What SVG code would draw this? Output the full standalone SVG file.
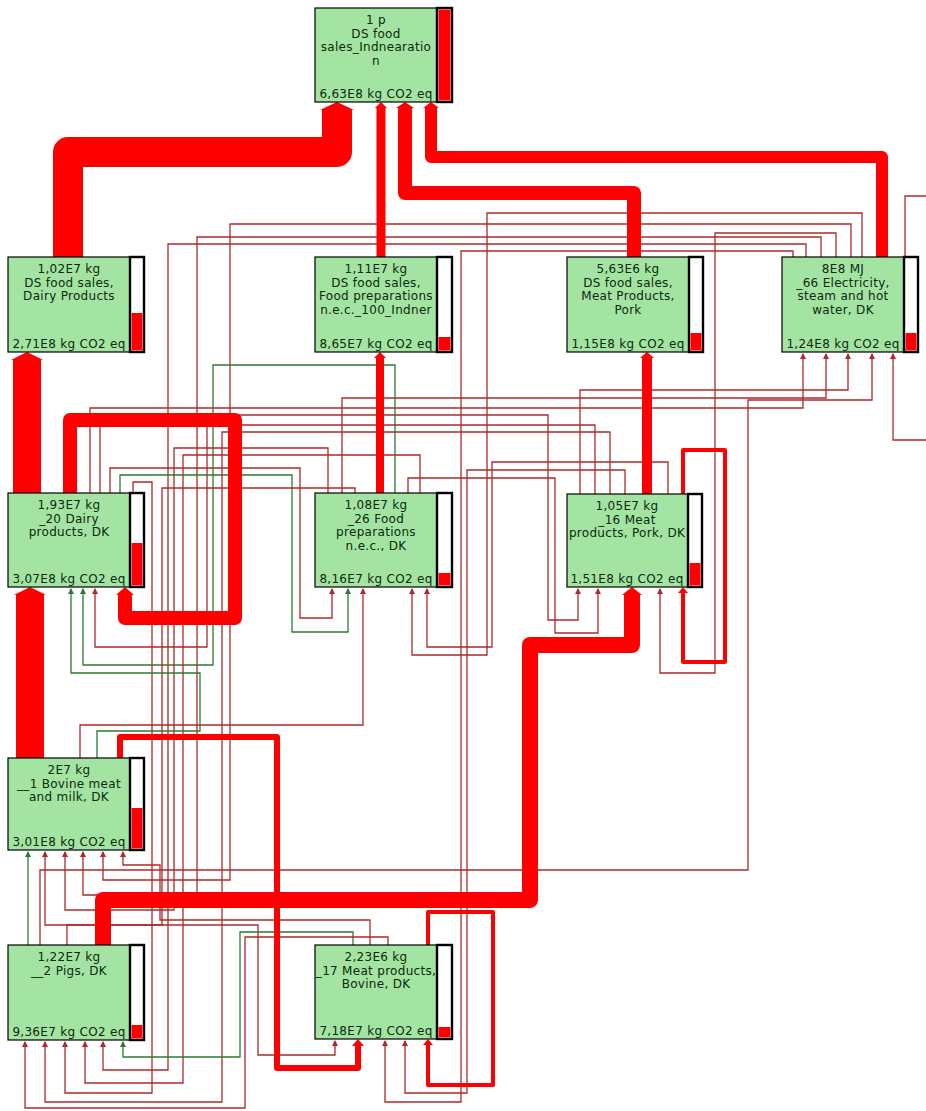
<svg xmlns="http://www.w3.org/2000/svg" width="926" height="1111" viewBox="0 0 926 1111">
<style>
  .box { fill:#a3e4a3; stroke:#000; stroke-width:1.2; }
  .bar { fill:#fff; stroke:#000; stroke-width:2.4; }
  .lvl { fill:#ff0000; }
  .lbl { font-family:"DejaVu Sans", Verdana, sans-serif; font-size:12px; letter-spacing:0.3px; fill:#0b2a0b; text-anchor:middle; }
  .thick { fill:none; stroke:#ff0000; stroke-linejoin:round; }
  .thin { fill:none; stroke:#ad2a2a; stroke-width:1.3; marker-end:url(#ah); }
  .neg { fill:none; stroke:#2f7a2f; stroke-width:1.3; marker-end:url(#ahg); }
  .head { fill:#ff0000; }
</style>
<defs>
  <marker id="ah" markerWidth="6" markerHeight="6" refX="5" refY="3" orient="auto" markerUnits="userSpaceOnUse">
    <path d="M0,0 L6,3 L0,6 z" fill="#ad2a2a"/>
  </marker>
  <marker id="ahg" markerWidth="6" markerHeight="6" refX="5" refY="3" orient="auto" markerUnits="userSpaceOnUse">
    <path d="M0,0 L6,3 L0,6 z" fill="#2f7a2f"/>
  </marker>
</defs>
<rect width="926" height="1111" fill="#fff"/>

<!-- flows between processes -->
<g id="connectors">
  <!-- electricity outputs -->
  <path class="thin" d="M905,257 V196 H940 V440 H893 V354"/>
  <path class="thin" d="M793,257 V251 H461 V1102 H385 V1041"/>
  <path class="thin" d="M806,257 V244 H168 V1070 H103 V1042"/>
  <path class="thin" d="M821,257 V237 H197 V895 H83 V852"/>
  <path class="thin" d="M836,257 V233 H715 V673 H660 V589"/>
  <path class="thin" d="M851,257 V224 H230 V880 H103 V852"/>
  <path class="thin" d="M862,257 V213 H487 V655 H412 V589"/>

  <!-- dairy products outputs -->
  <path class="thin" d="M90,493 V408 H803 V354"/>
  <path class="thin" d="M100,493 V415 H548 V620 H578 V589"/>
  <path class="thin" d="M110,493 V468 H300 V618 H332 V589"/>
  <path class="neg" d="M120,493 V475 H292 V632 H348 V589"/>
  <path class="thin" d="M133,493 V482 H152 V1093 H65 V1042"/>

  <!-- food preparations outputs -->
  <path class="thin" d="M342,493 V398 H826 V354"/>
  <path class="neg" d="M395,493 V365 H213 V665 H83 V589"/>
  <path class="thin" d="M408,493 V478 H555 V633 H598 V589"/>
  <path class="thin" d="M420,493 V455 H183 V1083 H85 V1042"/>
  <path class="thin" d="M328,493 V448 H174 V910 H65 V852"/>
  <path class="thin" d="M355,493 V488 H162 V925 H45 V852"/>

  <!-- pork meat products outputs -->
  <path class="thin" d="M580,494 V390 H848 V354"/>
  <path class="thin" d="M595,494 V425 H207 V647 H95 V589"/>
  <path class="thin" d="M610,494 V432 H222 V1102 H45 V1042"/>
  <path class="thin" d="M625,494 V470 H467 V1093 H405 V1041"/>
  <path class="thin" d="M668,494 V462 H492 V647 H427 V589"/>

  <!-- bovine outputs -->
  <path class="thin" d="M80,758 V725 H363 V589"/>
  <path class="neg" d="M97,758 V731 H200 V673 H71 V589"/>

  <!-- pig outputs -->
  <path class="thin" d="M40,945 V870 H748 V400 H872 V354"/>
  <path class="neg" d="M28,945 V852"/>
  <path class="thin" d="M67,945 V925 H258 V1055 H335 V1041"/>

  <!-- bovine meat products outputs -->
  <path class="neg" d="M353,945 V932 H240 V1057 H123 V1042"/>
  <path class="thin" d="M370,945 V920 H160 V865 H123 V852"/>
  <path class="thin" d="M388,945 V937 H245 V1108 H25 V1042"/>

  <!-- heavy flows -->
  <path class="thick" stroke-width="30" d="M68,257 V152 H337 V110"/>
  <polygon class="head" points="320,110 354,110 337,102"/>
  <path class="thick" stroke-width="9" d="M381,257 V108"/>
  <polygon class="head" points="375,108 387,108 381,102"/>
  <path class="thick" stroke-width="14" d="M634,257 V193 H405 V108"/>
  <polygon class="head" points="396,108 414,108 405,102"/>
  <path class="thick" stroke-width="12" d="M882,257 V157 H431 V108"/>
  <polygon class="head" points="423,108 439,108 431,102"/>

  <path class="thick" stroke-width="28" d="M27,493 V360"/>
  <polygon class="head" points="11,360 43,360 27,352"/>
  <path class="thick" stroke-width="8" d="M380,493 V358"/>
  <polygon class="head" points="374,358 386,358 380,352"/>
  <path class="thick" stroke-width="10" d="M647,494 V358"/>
  <polygon class="head" points="640,358 654,358 647,352"/>

  <path class="thick" stroke-width="14" d="M70,493 V420 H235 V618 H125 V595"/>
  <polygon class="head" points="116,595 134,595 125,587"/>

  <path class="thick" stroke-width="28" d="M30,758 V595"/>
  <polygon class="head" points="14,595 46,595 30,587"/>

  <path class="thick" stroke-width="16" d="M103,945 V900 H530 V645 H632 V595"/>
  <polygon class="head" points="622,595 642,595 632,587"/>

  <path class="thick" stroke-width="6" d="M120,758 V737 H277 V1068 H358 V1046"/>
  <polygon class="head" points="352,1046 364,1046 358,1039"/>

  <path class="thick" stroke-width="4" d="M428,945 V912 H493 V1085 H428 V1045"/>
  <polygon class="head" points="423,1045 433,1045 428,1039"/>

  <path class="thick" stroke-width="4" d="M683,494 V450 H725 V662 H683 V593"/>
  <polygon class="head" points="678,593 688,593 683,587"/>
</g>

<!-- processes -->
<g id="n-total">
  <rect class="box" x="315" y="8" width="122" height="94"/>
  <rect class="bar" x="437" y="8" width="15" height="94"/>
  <rect class="lvl" x="438.5" y="9.5" width="12" height="91"/>
  <text class="lbl" x="376" y="24">1 p</text>
  <text class="lbl" x="376" y="37.5">DS food</text>
  <text class="lbl" x="376" y="51">sales_Indnearatio</text>
  <text class="lbl" x="376" y="64.5">n</text>
  <text class="lbl" x="376" y="98">6,63E8 kg CO2 eq</text>
</g>

<g id="n-dairy-sales">
  <rect class="box" x="8" y="257" width="122" height="95"/>
  <rect class="bar" x="130" y="257" width="14" height="95"/>
  <rect class="lvl" x="131.5" y="313" width="11" height="37.5"/>
  <text class="lbl" x="69" y="273">1,02E7 kg</text>
  <text class="lbl" x="69" y="286.5">DS food sales,</text>
  <text class="lbl" x="69" y="300">Dairy Products</text>
  <text class="lbl" x="69" y="348">2,71E8 kg CO2 eq</text>
</g>

<g id="n-foodprep-sales">
  <rect class="box" x="315" y="257" width="122" height="95"/>
  <rect class="bar" x="437" y="257" width="15" height="95"/>
  <rect class="lvl" x="438.5" y="337" width="12" height="13.5"/>
  <text class="lbl" x="376" y="273">1,11E7 kg</text>
  <text class="lbl" x="376" y="286.5">DS food sales,</text>
  <text class="lbl" x="376" y="300">Food preparations</text>
  <text class="lbl" x="376" y="313.5">n.e.c._100_Indner</text>
  <text class="lbl" x="376" y="348">8,65E7 kg CO2 eq</text>
</g>

<g id="n-pork-sales">
  <rect class="box" x="567" y="257" width="122" height="95"/>
  <rect class="bar" x="689" y="257" width="14" height="95"/>
  <rect class="lvl" x="690.5" y="333" width="11" height="17.5"/>
  <text class="lbl" x="628" y="273">5,63E6 kg</text>
  <text class="lbl" x="628" y="286.5">DS food sales,</text>
  <text class="lbl" x="628" y="300">Meat Products,</text>
  <text class="lbl" x="628" y="313.5">Pork</text>
  <text class="lbl" x="628" y="348">1,15E8 kg CO2 eq</text>
</g>

<g id="n-electricity">
  <rect class="box" x="782" y="257" width="122" height="95"/>
  <rect class="bar" x="904" y="257" width="14" height="95"/>
  <rect class="lvl" x="905.5" y="333" width="11" height="17.5"/>
  <text class="lbl" x="843" y="273">8E8 MJ</text>
  <text class="lbl" x="843" y="286.5">_66 Electricity,</text>
  <text class="lbl" x="843" y="300">steam and hot</text>
  <text class="lbl" x="843" y="313.5">water, DK</text>
  <text class="lbl" x="843" y="348">1,24E8 kg CO2 eq</text>
</g>

<g id="n-dairy-dk">
  <rect class="box" x="8" y="493" width="122" height="94"/>
  <rect class="bar" x="130" y="493" width="14" height="94"/>
  <rect class="lvl" x="131.5" y="543" width="11" height="42.5"/>
  <text class="lbl" x="69" y="509">1,93E7 kg</text>
  <text class="lbl" x="69" y="522.5">_20 Dairy</text>
  <text class="lbl" x="69" y="536">products, DK</text>
  <text class="lbl" x="69" y="583">3,07E8 kg CO2 eq</text>
</g>

<g id="n-foodprep-dk">
  <rect class="box" x="315" y="493" width="122" height="94"/>
  <rect class="bar" x="437" y="493" width="15" height="94"/>
  <rect class="lvl" x="438.5" y="573" width="12" height="12.5"/>
  <text class="lbl" x="376" y="509">1,08E7 kg</text>
  <text class="lbl" x="376" y="522.5">_26 Food</text>
  <text class="lbl" x="376" y="536">preparations</text>
  <text class="lbl" x="376" y="549.5">n.e.c., DK</text>
  <text class="lbl" x="376" y="583">8,16E7 kg CO2 eq</text>
</g>

<g id="n-pork-dk">
  <rect class="box" x="567" y="494" width="121" height="93"/>
  <rect class="bar" x="688" y="494" width="14" height="93"/>
  <rect class="lvl" x="689.5" y="563" width="11" height="22.5"/>
  <text class="lbl" x="627" y="510">1,05E7 kg</text>
  <text class="lbl" x="627" y="523.5">_16 Meat</text>
  <text class="lbl" x="627" y="537">products, Pork, DK</text>
  <text class="lbl" x="627" y="583">1,51E8 kg CO2 eq</text>
</g>

<g id="n-bovine">
  <rect class="box" x="8" y="758" width="122" height="92"/>
  <rect class="bar" x="130" y="758" width="14" height="92"/>
  <rect class="lvl" x="131.5" y="808" width="11" height="40.5"/>
  <text class="lbl" x="69" y="774">2E7 kg</text>
  <text class="lbl" x="69" y="787.5">__1 Bovine meat</text>
  <text class="lbl" x="69" y="801">and milk, DK</text>
  <text class="lbl" x="69" y="846">3,01E8 kg CO2 eq</text>
</g>

<g id="n-pigs">
  <rect class="box" x="8" y="945" width="122" height="95"/>
  <rect class="bar" x="130" y="945" width="14" height="95"/>
  <rect class="lvl" x="131.5" y="1025" width="11" height="13.5"/>
  <text class="lbl" x="69" y="961">1,22E7 kg</text>
  <text class="lbl" x="69" y="974.5">__2 Pigs, DK</text>
  <text class="lbl" x="69" y="1036">9,36E7 kg CO2 eq</text>
</g>

<g id="n-bovine-meat">
  <rect class="box" x="315" y="945" width="122" height="94"/>
  <rect class="bar" x="437" y="945" width="15" height="94"/>
  <rect class="lvl" x="438.5" y="1027" width="12" height="10.5"/>
  <text class="lbl" x="376" y="961">2,23E6 kg</text>
  <text class="lbl" x="376" y="974.5">_17 Meat products,</text>
  <text class="lbl" x="376" y="988">Bovine, DK</text>
  <text class="lbl" x="376" y="1035">7,18E7 kg CO2 eq</text>
</g>
</svg>
